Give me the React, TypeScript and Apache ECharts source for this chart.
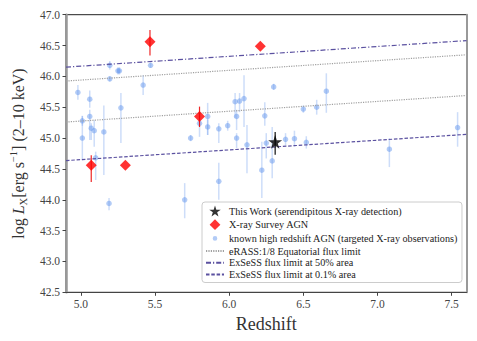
import React, { useEffect, useRef } from "react";
import * as echarts from "echarts";

const xTicks = [5.0, 5.5, 6.0, 6.5, 7.0, 7.5];

// known high redshift AGN (targeted X-ray observations)
const blueX = [4.98, 5.01, 5.01, 5.06, 5.06, 5.07, 5.09, 5.1, 5.155, 5.19, 5.195, 5.195, 5.25, 5.26, 5.27, 5.42, 5.47, 5.7, 5.74, 5.8, 5.855, 5.855, 5.93, 5.93, 5.99, 6.04, 6.07, 6.1, 6.05, 6.05, 6.12, 6.22, 6.24, 6.25, 6.29, 6.3, 6.38, 6.44, 6.5, 6.52, 6.59, 6.655, 7.08, 7.54];
const blueY = [45.74, 45.28, 45.0, 45.63, 45.35, 45.16, 45.12, 44.68, 45.1, 43.94, 46.18, 45.96, 46.09, 46.09, 45.49, 45.86, 46.18, 44.0, 45.0, 45.24, 45.35, 45.18, 45.15, 44.3, 45.2, 45.59, 45.6, 45.64, 45.35, 45.0, 44.89, 44.48, 45.36, 44.92, 44.63, 45.83, 44.98, 44.99, 45.47, 44.93, 45.5, 45.76, 44.82, 45.17];
const blueLo = [45.62, 45.2, 44.64, 45.49, 44.97, 44.97, 44.86, 44.32, 44.4, 43.83, 46.11, 45.92, 46.03, 46.03, 44.92, 45.7, 46.14, 43.7, 44.95, 45.02, 45.05, 45.05, 44.92, 44.0, 45.12, 45.33, 45.42, 45.18, 45.13, 44.84, 44.43, 44.03, 45.2, 44.67, 44.35, 45.78, 44.88, 44.86, 45.41, 44.83, 45.38, 45.41, 44.53, 44.86];
const blueHi = [45.86, 45.36, 45.36, 45.77, 45.46, 45.24, 45.29, 44.78, 45.53, 44.03, 46.25, 46.0, 46.15, 46.15, 45.73, 46.02, 46.22, 44.27, 45.05, 45.4, 45.57, 45.3, 45.24, 44.6, 45.28, 45.73, 45.73, 46.02, 45.46, 45.08, 45.21, 44.94, 45.58, 45.08, 45.18, 45.88, 45.08, 45.12, 45.53, 45.03, 45.62, 46.05, 45.0, 45.42];

// X-ray Survey AGN
const redX = [5.07, 5.3, 5.466, 5.8, 6.21];
const redY = [44.56, 44.56, 46.56, 45.35, 46.49];
const redLo = [44.29, 44.56, 46.34, 45.18, 46.49];
const redHi = [44.72, 44.56, 46.75, 45.51, 46.49];

// This Work
const starX = [6.31];
const starY = [44.94];
const starLo = [44.73];
const starHi = [45.1];

// flux limit lines (end points at the plot edges)
const limitX = [4.9, 7.6];
const exsess50 = [46.15, 46.58];
const erassHigh = [45.925, 46.35];
const erassLow = [45.26, 45.69];
const exsess01 = [44.635, 45.06];

const NAME_STAR = "This Work (serendipitous X-ray detection)";
const NAME_RED = "X-ray Survey AGN";
const NAME_BLUE = "known high redshift AGN (targeted X-ray observations)";
const NAME_ERASS = "eRASS:1/8 Equatorial flux limit";
const NAME_50 = "ExSeSS flux limit at 50% area";
const NAME_01 = "ExSeSS flux limit at 0.1% area";

const FONT = "Liberation Serif";
const STAR_PATH = "path://M50,0 L61,35 L98,35 L68,57 L79,91 L50,70 L21,91 L32,57 L2,35 L39,35 Z";
const STAR_ICON = "path://M0,-4 M100,96 M50,0 L61,35 L98,35 L68,57 L79,91 L50,70 L21,91 L32,57 L2,35 L39,35 Z";
const DIAMOND_ICON = "path://M0,0 M12,12 M6,0.6 L11.4,6 L6,11.4 L0.6,6 Z";
const CIRCLE_ICON = "path://M0,0 M12,12 M3.7,6 A2.3,2.3 0 1,0 8.3,6 A2.3,2.3 0 1,0 3.7,6 Z";

function errSeries(name: string, xs: number[], lo: number[], hi: number[], color: string, width: number, z: number) {
  return {
    type: "custom",
    name,
    z,
    silent: true,
    data: xs.map((x, i) => [x, lo[i], hi[i]]),
    encode: { x: 0, y: [1, 2] },
    renderItem: (_p: any, api: any) => {
      const a = api.coord([api.value(0), api.value(1)]);
      const b = api.coord([api.value(0), api.value(2)]);
      return {
        type: "line",
        shape: { x1: a[0], y1: a[1], x2: b[0], y2: b[1] },
        style: { stroke: color, lineWidth: width },
      };
    },
  };
}

function lineSeries(name: string, ys: number[], color: string, type: any, width: number) {
  return {
    type: "line",
    name,
    z: 3,
    symbol: "none",
    silent: true,
    data: limitX.map((x, i) => [x, ys[i]]),
    lineStyle: { color, type, width },
    itemStyle: { color, opacity: 0 },
  };
}

export default function App() {
  const ref = useRef<HTMLDivElement>(null);
  useEffect(() => {
    const chart = echarts.init(ref.current!, null, { renderer: "svg" });
    const option: any = {
      animation: false,
      grid: { left: 62, right: 10.5, top: 14.7, bottom: 48.7, show: true, borderColor: "#222", borderWidth: 1 },
      xAxis: [
        {
          type: "value",
          min: 4.9,
          max: 7.6,
          name: "Redshift",
          nameLocation: "middle",
          nameGap: 21,
          nameTextStyle: { fontFamily: FONT, fontSize: 18, color: "#333", verticalAlign: "top" },
          axisLine: { show: true, lineStyle: { color: "#444", width: 1.2 } },
          axisTick: { show: true, length: 3.5, lineStyle: { color: "#444" }, customValues: xTicks },
          axisLabel: {
            fontFamily: FONT,
            fontSize: 11.5,
            color: "#444",
            margin: 6,
            customValues: xTicks,
            formatter: (v: number) => v.toFixed(1),
          },
          splitLine: { show: false },
        },
      ],
      yAxis: [
        {
          type: "value",
          min: 42.5,
          max: 47,
          interval: 0.5,
          name: "{n|log }{i|L}{s|X}{n|[erg s}{p|−1}{n|] (2–10 keV)}",
          nameLocation: "middle",
          nameRotate: 90,
          nameGap: 33,
          nameTextStyle: {
            fontFamily: FONT,
            color: "#333",
            rich: {
              n: { fontFamily: FONT, fontSize: 16, color: "#333", lineHeight: 21 },
              i: { fontFamily: FONT, fontSize: 16, fontStyle: "italic", color: "#333", lineHeight: 21 },
              s: { fontFamily: FONT, fontSize: 10.5, color: "#333", verticalAlign: "bottom", lineHeight: 21 },
              p: { fontFamily: FONT, fontSize: 10.5, color: "#333", verticalAlign: "top", lineHeight: 21 },
            },
          },
          axisLine: { show: true, lineStyle: { color: "#999", width: 2.5 } },
          axisTick: { show: true, length: 3.5, lineStyle: { color: "#444" } },
          axisLabel: {
            fontFamily: FONT,
            fontSize: 11.5,
            color: "#444",
            margin: 6,
            formatter: (v: number) => v.toFixed(1),
          },
          splitLine: { show: false },
        },
        {
          type: "value",
          position: "right",
          min: 42.5,
          max: 47,
          interval: 0.5,
          axisLine: { show: true, lineStyle: { color: "#999", width: 2 } },
          axisTick: { show: false },
          axisLabel: { show: false },
          splitLine: { show: false },
        },
      ],
      legend: {
        orient: "vertical",
        left: 202,
        top: 202,
        itemWidth: 18,
        itemHeight: 12,
        itemGap: 1.7,
        padding: [3, 4, 3, 3],
        backgroundColor: "rgba(255,255,255,0.9)",
        borderColor: "#ccc",
        borderWidth: 1,
        borderRadius: 3,
        textStyle: { fontFamily: FONT, fontSize: 10.2, color: "#222" },
        data: [
          { name: NAME_STAR, icon: STAR_ICON },
          { name: NAME_RED, icon: DIAMOND_ICON },
          { name: NAME_BLUE, icon: CIRCLE_ICON },
          { name: NAME_ERASS },
          { name: NAME_50 },
          { name: NAME_01 },
        ],
      },
      series: [
        errSeries("blue-err", blueX, blueLo, blueHi, "rgba(100,149,237,0.32)", 1.5, 1),
        {
          type: "scatter",
          name: NAME_BLUE,
          z: 2,
          symbol: "circle",
          symbolSize: 5.5,
          itemStyle: { color: "rgba(100,149,237,0.62)" },
          data: blueX.map((x, i) => [x, blueY[i]]),
        },
        lineSeries(NAME_ERASS, erassHigh, "#a0a0a0", [1.2, 1.2], 1.2),
        lineSeries(NAME_ERASS, erassLow, "#a0a0a0", [1.2, 1.2], 1.2),
        lineSeries(NAME_50, exsess50, "#5b51a0", [5, 2, 1.2, 2], 1.2),
        lineSeries(NAME_01, exsess01, "#5b51a0", [3.5, 1.8], 1.2),
        errSeries("red-err", redX, redLo, redHi, "rgba(235,0,0,0.85)", 1.2, 4),
        {
          type: "scatter",
          name: NAME_RED,
          z: 5,
          symbol: "diamond",
          symbolSize: [11, 11],
          itemStyle: { color: "#ff0000" },
          data: redX.map((x, i) => [x, redY[i]]),
        },
        errSeries("star-err", starX, starLo, starHi, "#111", 1.2, 6),
        {
          type: "scatter",
          name: NAME_STAR,
          z: 7,
          symbol: STAR_PATH,
          symbolSize: 14,
          itemStyle: { color: "#000" },
          data: starX.map((x, i) => [x, starY[i]]),
        },
      ],
    };
    chart.setOption(option);
    return () => chart.dispose();
  }, []);
  return <div ref={ref} style={{ position: "absolute", left: 0, top: 0, width: 477, height: 341 }} />;
}
